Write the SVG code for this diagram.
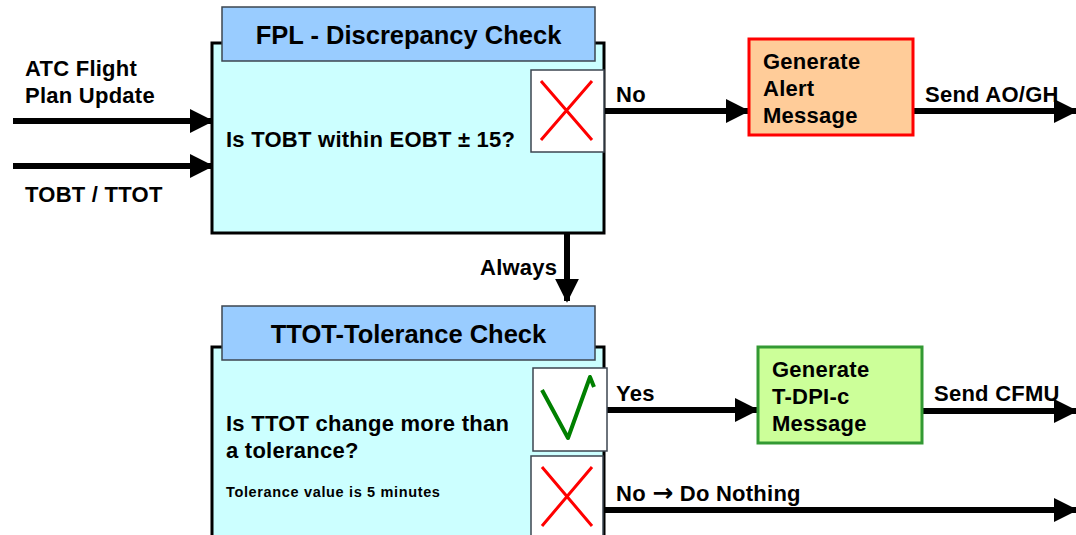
<svg xmlns="http://www.w3.org/2000/svg" width="1076" height="535" viewBox="0 0 1076 535">
  <defs>
    <marker id="arr" markerWidth="4" markerHeight="4" refX="3.7" refY="2" orient="auto" markerUnits="strokeWidth">
      <path d="M0,0 L4,2 L0,4 Z" fill="#000"/>
    </marker>
    <style>
      text { font-family: "Liberation Sans", Arial, sans-serif; font-weight: bold; fill: #000; }
      .panel { fill: #CCFFFF; stroke: #000; stroke-width: 3; }
      .head { fill: #99CCFF; stroke: #3c4650; stroke-width: 1.5; }
      .tick { fill: #fff; stroke: #3c4650; stroke-width: 1.5; }
      .cross { stroke: #FF0000; stroke-width: 3; fill: none; }
      .conn { stroke: #000; stroke-width: 6; fill: none; }
      .t20 { font-size: 22px; letter-spacing: 0.25px; }
      .t24 { font-size: 25.5px; }
    </style>
  </defs>

  <!-- connectors -->
  <g id="connectors">
    <line class="conn" x1="13" y1="121" x2="212" y2="121" marker-end="url(#arr)"/>
    <line class="conn" x1="13" y1="166" x2="212" y2="166" marker-end="url(#arr)"/>
    <line class="conn" x1="604" y1="111" x2="748" y2="111" marker-end="url(#arr)"/>
    <line class="conn" x1="913" y1="111" x2="1076" y2="111" marker-end="url(#arr)"/>
    <line class="conn" x1="567" y1="231" x2="567" y2="301" marker-end="url(#arr)"/>
    <line class="conn" x1="607" y1="410" x2="757" y2="410" marker-end="url(#arr)"/>
    <line class="conn" x1="922" y1="411" x2="1076" y2="411" marker-end="url(#arr)"/>
    <line class="conn" x1="604" y1="510" x2="1076" y2="510" marker-end="url(#arr)"/>
    <text class="t20" x="25" y="76">ATC Flight</text>
    <text class="t20" x="25" y="103">Plan Update</text>
    <text class="t20" x="25" y="202">TOBT / TTOT</text>
    <text class="t20" x="616" y="102">No</text>
    <text class="t20" x="925" y="102">Send AO/GH</text>
    <text class="t20" x="480" y="275">Always</text>
    <text class="t20" x="616" y="401">Yes</text>
    <text class="t20" x="934" y="401">Send CFMU</text>
    <text class="t20" x="616" y="501">No <tspan font-family="DejaVu Sans, sans-serif" font-size="25px">→</tspan> Do Nothing</text>
  </g>

  <!-- FPL discrepancy check -->
  <g id="fpl-check">
    <rect class="panel" x="212" y="43" width="392" height="190"/>
    <rect class="head" x="222" y="7" width="373" height="54"/>
    <text class="t24" x="408.5" y="44" text-anchor="middle">FPL - Discrepancy Check</text>
    <text class="t20" x="226" y="147">Is TOBT within EOBT ± 15?</text>
    <rect class="tick" x="531" y="70" width="73" height="82"/>
    <path class="cross" d="M541,81 L592,140 M592,81 L541,140"/>
  </g>

  <!-- Alert message -->
  <g id="alert">
    <rect x="749" y="39" width="164" height="96" fill="#FFCC99" stroke="#FF0000" stroke-width="3"/>
    <text class="t20" x="763" y="69">Generate</text>
    <text class="t20" x="763" y="96">Alert</text>
    <text class="t20" x="763" y="123">Message</text>
  </g>

  <!-- TTOT tolerance check -->
  <g id="ttot-check">
    <rect class="panel" x="212" y="347" width="392" height="200"/>
    <rect class="head" x="222" y="306" width="373" height="54"/>
    <text class="t24" x="408.5" y="343" text-anchor="middle">TTOT-Tolerance Check</text>
    <text class="t20" x="226" y="431">Is TTOT change more than</text>
    <text class="t20" x="226" y="458">a tolerance?</text>
    <text x="226" y="497" font-size="14.5px" letter-spacing="0.65px">Tolerance value is 5 minutes</text>
    <rect class="tick" x="533" y="368" width="74" height="83"/>
    <path d="M542,390 L568,438 L590,377 L594,387" fill="none" stroke="#008000" stroke-width="4" stroke-linejoin="round"/>
    <rect class="tick" x="531" y="456" width="72" height="90"/>
    <path class="cross" d="M542,467 L592,526 M592,467 L542,526"/>
  </g>

  <!-- T-DPI-c message -->
  <g id="tdpi">
    <rect x="758" y="347" width="164" height="96" fill="#CCFF99" stroke="#339933" stroke-width="3"/>
    <text class="t20" x="772" y="377">Generate</text>
    <text class="t20" x="772" y="404">T-DPI-c</text>
    <text class="t20" x="772" y="431">Message</text>
  </g>
</svg>
